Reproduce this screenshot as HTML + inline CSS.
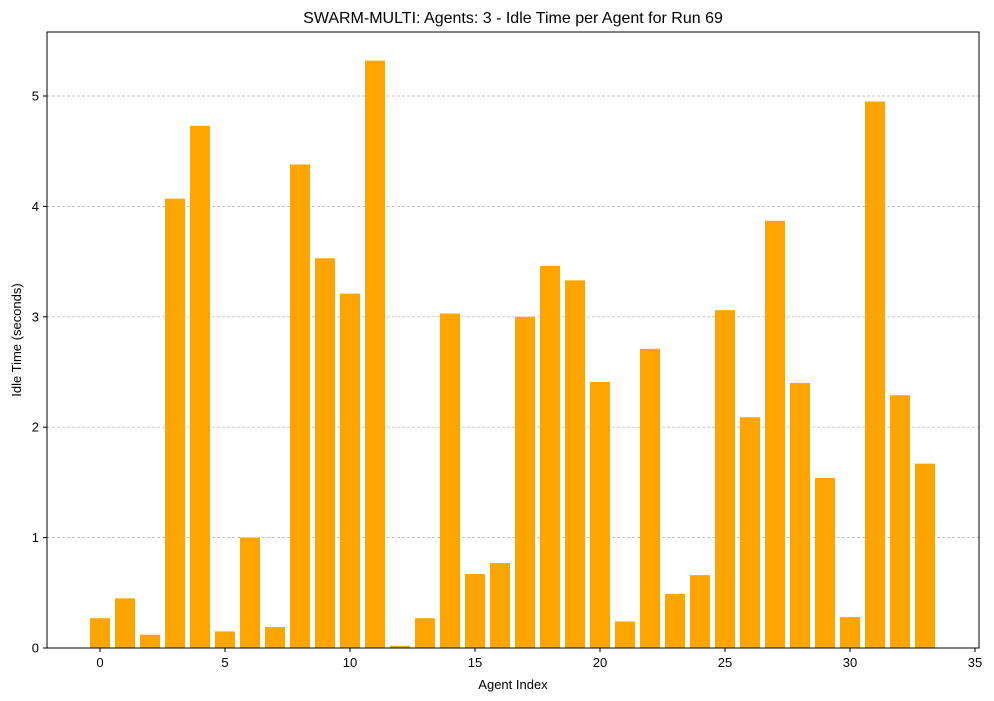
<!DOCTYPE html>
<html><head><meta charset="utf-8"><style>
html,body{margin:0;padding:0;background:#fff;}
svg{display:block;font-family:"Liberation Sans","DejaVu Sans",sans-serif;}
</style></head><body>
<svg id="chart" width="994" height="701" viewBox="0 0 994 701">
<text x="513" y="23" text-anchor="middle" font-size="16" fill="#000">SWARM-MULTI: Agents: 3 - Idle Time per Agent for Run 69</text>
<g id="grid"></g>
<g id="bars"></g>
<rect x="47" y="32" width="932" height="616" fill="none" stroke="#000" stroke-width="1"/>
<g id="xticks"></g>
<g id="yticks"></g>
<text x="513" y="689" text-anchor="middle" font-size="13">Agent Index</text>
<text x="0" y="0" transform="translate(21,340) rotate(-90)" text-anchor="middle" font-size="13">Idle Time (seconds)</text>
</svg>
<script>
const values = [0.27,0.45,0.12,4.07,4.73,0.15,1.0,0.19,4.38,3.53,3.21,5.32,0.02,0.27,3.03,0.67,0.77,3.0,3.46,3.33,2.41,0.24,2.71,0.49,0.66,3.06,2.09,3.87,2.40,1.54,0.28,4.95,2.29,1.67];
const xTicks = [0,5,10,15,20,25,30,35];
const yTicks = [0,1,2,3,4,5];
const NS = "http://www.w3.org/2000/svg";
const x = v => 100 + v * 25;
const y = v => 648 - v * 110.4;
function mk(tag, attrs, parent){const e=document.createElementNS(NS,tag);for(const k in attrs)e.setAttribute(k,attrs[k]);parent.appendChild(e);return e;}
const grid=document.getElementById('grid'), bars=document.getElementById('bars'), xt=document.getElementById('xticks'), yt=document.getElementById('yticks');
yTicks.forEach(t=>{
  if(t>0){const g=mk('line',{x1:47,x2:979,y1:y(t),y2:y(t),stroke:'#b0b0b0','stroke-width':0.7,'stroke-dasharray':'3,2'},grid);
  
  }
  const l=mk('line',{x1:43,x2:47,y1:y(t),y2:y(t),stroke:'#000'},yt);
  
  
  const tx=mk('text',{x:39,y:y(t)+4.5,'text-anchor':'end','font-size':13},yt);tx.textContent=t;
  
  
});
values.forEach((v,i)=>{
  const r=mk('rect',{x:x(i-0.4),y:y(v),width:x(i+0.4)-x(i-0.4),height:y(0)-y(v),fill:'#ffa500'},bars);
  
  
});
xTicks.forEach(t=>{
  const l=mk('line',{x1:x(t),x2:x(t),y1:648,y2:652,stroke:'#000'},xt);
  
  
  const tx=mk('text',{x:x(t),y:667,'text-anchor':'middle','font-size':13},xt);tx.textContent=t;
  
  
});
</script>
</body></html>
